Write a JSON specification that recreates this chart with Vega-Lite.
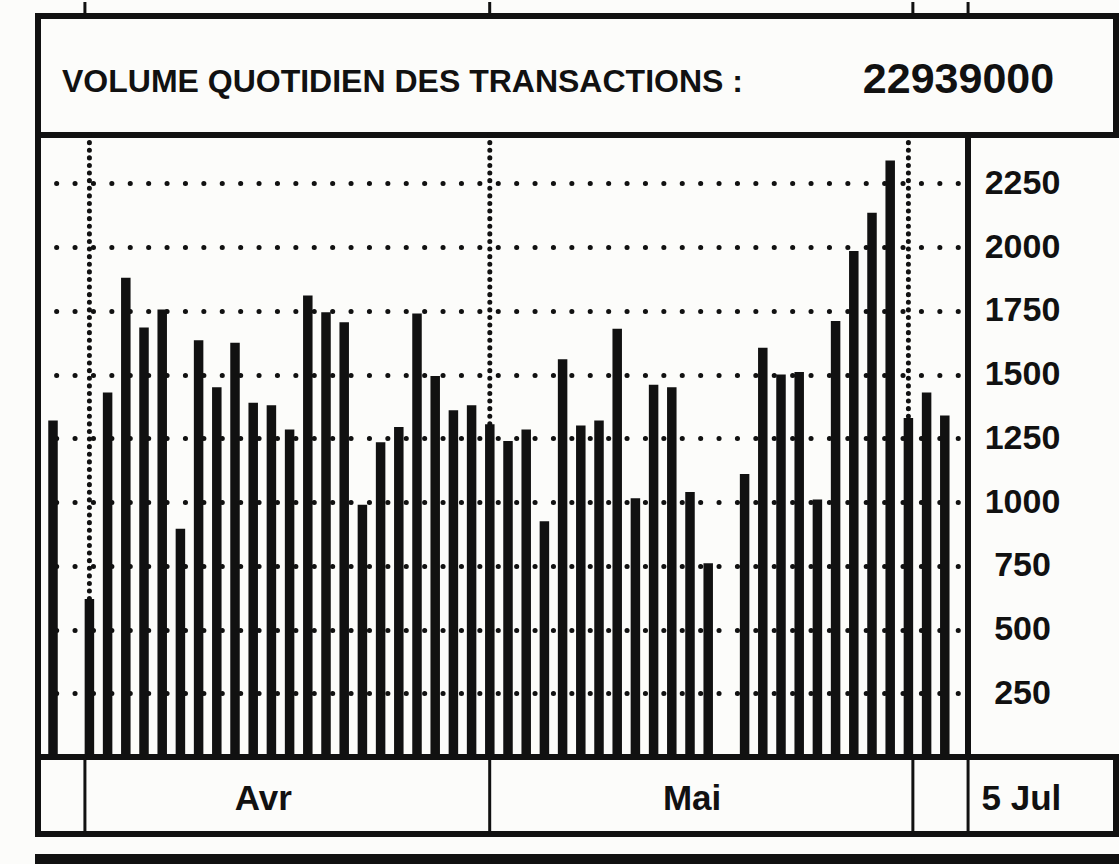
{
  "$schema": "https://vega.github.io/schema/vega-lite/v6.json",
  "background": "#fcfcfa",
  "padding": {"left": 35, "top": 0, "right": 0, "bottom": 0},
  "spacing": 0,
  "bounds": "flush",
  "config": {
    "view": {"stroke": "#111", "strokeWidth": 6},
    "font": "Liberation Sans",
    "text": {"font": "Liberation Sans", "fontWeight": "bold", "color": "#111"}
  },
  "datasets": {
    "daily": [
      {"day": 0, "volume": 1320}, {"day": 2, "volume": 620}, {"day": 3, "volume": 1430},
      {"day": 4, "volume": 1880}, {"day": 5, "volume": 1685}, {"day": 6, "volume": 1755},
      {"day": 7, "volume": 895}, {"day": 8, "volume": 1635}, {"day": 9, "volume": 1450},
      {"day": 10, "volume": 1625}, {"day": 11, "volume": 1390}, {"day": 12, "volume": 1380},
      {"day": 13, "volume": 1285}, {"day": 14, "volume": 1810}, {"day": 15, "volume": 1745},
      {"day": 16, "volume": 1705}, {"day": 17, "volume": 990}, {"day": 18, "volume": 1235},
      {"day": 19, "volume": 1295}, {"day": 20, "volume": 1740}, {"day": 21, "volume": 1495},
      {"day": 22, "volume": 1360}, {"day": 23, "volume": 1380}, {"day": 24, "volume": 1305},
      {"day": 25, "volume": 1240}, {"day": 26, "volume": 1285}, {"day": 27, "volume": 925},
      {"day": 28, "volume": 1560}, {"day": 29, "volume": 1300}, {"day": 30, "volume": 1320},
      {"day": 31, "volume": 1680}, {"day": 32, "volume": 1015}, {"day": 33, "volume": 1460},
      {"day": 34, "volume": 1450}, {"day": 35, "volume": 1040}, {"day": 36, "volume": 760},
      {"day": 38, "volume": 1110}, {"day": 39, "volume": 1605}, {"day": 40, "volume": 1500},
      {"day": 41, "volume": 1510}, {"day": 42, "volume": 1010}, {"day": 43, "volume": 1710},
      {"day": 44, "volume": 1985}, {"day": 45, "volume": 2135}, {"day": 46, "volume": 2340},
      {"day": 47, "volume": 1330}, {"day": 48, "volume": 1430}, {"day": 49, "volume": 1340}
    ],
    "months": [
      {"month": "Avr", "start": 2},
      {"month": "Mai", "start": 24},
      {"month": "Jun", "start": 47}
    ],
    "dividers": [{"at": 2}, {"at": 24}, {"at": 47}, {"at": 50}],
    "bandLabels": [
      {"label": "Avr", "at": 11.7},
      {"label": "Mai", "at": 35},
      {"label": "5 Jul", "at": 52.9}
    ],
    "heading": [
      {"part": "label", "text": "VOLUME QUOTIDIEN DES TRANSACTIONS :"},
      {"part": "value", "text": "22939000"}
    ]
  },
  "vconcat": [
    {
      "width": 1078,
      "height": 14,
      "view": {"stroke": null},
      "data": {"name": "dividers"},
      "mark": {"type": "rule", "strokeWidth": 3, "color": "#111"},
      "encoding": {
        "x": {"field": "at", "type": "quantitative", "scale": {"domain": [-0.55, 58.04], "nice": false, "zero": false}, "axis": null}
      }
    },
    {
      "width": 1078,
      "height": 119,
      "data": {"name": "heading"},
      "layer": [
        {
          "transform": [{"filter": "datum.part === 'label'"}],
          "mark": {"type": "text", "align": "left", "baseline": "middle", "dx": 24, "dy": 6, "fontSize": 32},
          "encoding": {
            "x": {"field": "part", "type": "nominal", "bandPosition": 0, "scale": {"type": "band", "domain": ["label", "value"], "paddingInner": 0, "paddingOuter": 0}, "axis": null},
            "text": {"field": "text"}
          }
        },
        {
          "transform": [{"filter": "datum.part === 'value'"}],
          "mark": {"type": "text", "align": "center", "baseline": "middle", "dx": 112, "dy": 4, "fontSize": 43},
          "encoding": {
            "x": {"field": "part", "type": "nominal", "scale": {"type": "band", "domain": ["label", "value"], "paddingInner": 0, "paddingOuter": 0}, "axis": null},
            "text": {"field": "text"}
          }
        }
      ]
    },
    {
      "width": 930,
      "height": 622,
      "layer": [
        {
          "data": {"name": "months"},
          "mark": {"type": "rule", "strokeDash": [0.1, 7.5], "strokeCap": "round", "strokeWidth": 5, "color": "#111"},
          "encoding": {
            "x": {"field": "start", "type": "quantitative", "scale": {"domain": [-0.55, 50], "nice": false, "zero": false}, "axis": null}
          }
        },
        {
          "data": {"name": "daily"},
          "mark": {"type": "bar", "size": 9.5, "color": "#111"},
          "encoding": {
            "x": {"field": "day", "type": "quantitative", "scale": {"domain": [-0.55, 50], "nice": false, "zero": false}, "axis": null},
            "y": {
              "field": "volume", "type": "quantitative",
              "scale": {"domain": [0, 2440], "nice": false},
              "axis": {
                "orient": "right", "title": null, "format": "d",
                "values": [250, 500, 750, 1000, 1250, 1500, 1750, 2000, 2250],
                "domain": false, "ticks": false, "tickSize": 0,
                "labelPadding": 54, "labelAlign": "center", "labelBaseline": "middle",
                "labelFont": "Liberation Sans", "labelFontWeight": "bold", "labelFontSize": 34,
                "labelColor": "#111", "labelOverlap": false, "labelFlush": false,
                "grid": true, "gridColor": "#111", "gridOpacity": 1, "gridWidth": 5,
                "gridCap": "round", "gridDash": [0.1, 18.3], "gridDashOffset": 8.2
              }
            }
          }
        }
      ]
    },
    {
      "bounds": "flush",
      "spacing": 23,
      "vconcat": [
        {
          "width": 1078,
          "height": 77,
          "layer": [
            {
              "data": {"name": "dividers"},
              "mark": {"type": "rule", "strokeWidth": 3, "color": "#111"},
              "encoding": {
                "x": {"field": "at", "type": "quantitative", "scale": {"domain": [-0.55, 58.04], "nice": false, "zero": false}, "axis": null}
              }
            },
            {
              "data": {"name": "bandLabels"},
              "mark": {"type": "text", "baseline": "middle", "dy": 3, "fontSize": 35},
              "encoding": {
                "x": {"field": "at", "type": "quantitative", "scale": {"domain": [-0.55, 58.04], "nice": false, "zero": false}, "axis": null},
                "text": {"field": "label"}
              }
            }
          ]
        },
        {
          "width": 1078,
          "height": 5,
          "data": {"name": "dividers"},
          "mark": {"type": "rule", "strokeWidth": 3, "color": "#111"},
          "encoding": {
            "x": {"field": "at", "type": "quantitative", "scale": {"domain": [-0.55, 58.04], "nice": false, "zero": false}, "axis": null}
          }
        }
      ]
    }
  ]
}
